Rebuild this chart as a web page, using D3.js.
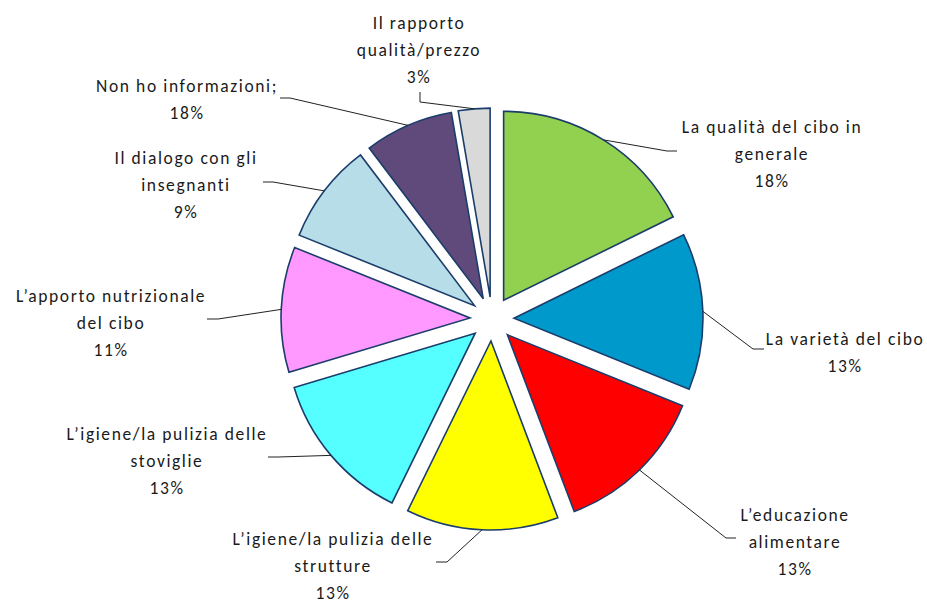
<!DOCTYPE html>
<html>
<head>
<meta charset="utf-8">
<script src="https://cdn.jsdelivr.net/npm/d3@7"></script>
<style>
  body { margin: 0; background: #fff; }
  svg text { font-family: Calibri, Carlito, Lato, "Liberation Sans", Arial, sans-serif; font-size: 17.5px; fill: #1a1a1a; }
</style>
</head>
<body>
<div id="chart"></div>
<script>
// slice names (line breaks as in the picture), slice sizes, printed percentages
var categories = [
    "La qualità del cibo in\ngenerale",
    "La varietà del cibo",
    "L’educazione\nalimentare",
    "L’igiene/la pulizia delle\nstrutture",
    "L’igiene/la pulizia delle\nstoviglie",
    "L’apporto nutrizionale\ndel cibo",
    "Il dialogo con gli\ninsegnanti",
    "Non ho informazioni;",
    "Il rapporto\nqualità/prezzo"
];
var values = [17.7, 13.4, 13.1, 13.0, 13.1, 10.7, 8.6, 7.6, 2.7];
var pctLabels = ["18%", "13%", "13%", "13%", "13%", "11%", "9%", "18%", "3%"];
var colors = ["#92d050", "#0099cc", "#ff0000", "#ffff00", "#55ffff", "#ff99ff", "#b7dde8", "#604a7b", "#d9d9d9"];

// manual label placement: text block centre x, first line y, leader end and elbow
var labelLayout = [
    { x: 772, y: 127, end: [677, 151], elbow: [667, 151] },
    { x: 845, y: 339, end: [764, 349], elbow: [753, 349] },
    { x: 795, y: 515, end: [736, 538], elbow: [726, 538] },
    { x: 333, y: 539, end: [436, 562], elbow: [447, 562] },
    { x: 167, y: 434, end: [268, 457], elbow: [278, 457] },
    { x: 111, y: 296, end: [207, 319], elbow: [218, 319] },
    { x: 186, y: 158, end: [263, 182], elbow: [273, 182] },
    { x: 187, y: 86, end: [280, 98], elbow: [290, 98] },
    { x: 419, y: 23, end: [420, 92], elbow: [420, 102] }
];

var width = 927, height = 600;
var cx = 492, cy = 319, radius = 189, explode = 22, lineH = 26.7;

var svg = d3.select("#chart").append("svg")
    .attr("width", width)
    .attr("height", height);

var pie = d3.pie().sort(null).value(function (d) { return d; });
var arcs = pie(values);

var arc = d3.arc().innerRadius(0).outerRadius(radius);

function mid(d) { return (d.startAngle + d.endAngle) / 2; }

var g = svg.append("g").attr("transform", "translate(" + cx + "," + cy + ")");

g.selectAll("path.slice")
    .data(arcs)
    .enter().append("path")
    .attr("class", "slice")
    .attr("d", arc)
    .attr("transform", function (d) {
        var a = mid(d);
        return "translate(" + (Math.sin(a) * explode) + "," + (-Math.cos(a) * explode) + ")";
    })
    .attr("fill", function (d, i) { return colors[i]; })
    .attr("stroke", "#1b3d6b")
    .attr("stroke-width", 1.6)
    .attr("stroke-linejoin", "miter");

// leader lines
svg.selectAll("path.leader")
    .data(arcs)
    .enter().append("path")
    .attr("class", "leader")
    .attr("fill", "none")
    .attr("stroke", "#222")
    .attr("stroke-width", 1)
    .attr("d", function (d, i) {
        var a = mid(d), r = radius + explode;
        var sx = cx + Math.sin(a) * r, sy = cy - Math.cos(a) * r;
        var L = labelLayout[i];
        return "M" + sx + "," + sy + "L" + L.elbow[0] + "," + L.elbow[1] + "L" + L.end[0] + "," + L.end[1];
    });

// labels
var lab = svg.selectAll("text.lab")
    .data(categories)
    .enter().append("text")
    .attr("class", "lab")
    .attr("text-anchor", "middle")
    .attr("letter-spacing", "1.6px");

lab.each(function (c, i) {
    var lines = c.split("\n").concat([pctLabels[i]]);
    var L = labelLayout[i];
    d3.select(this).selectAll("tspan")
        .data(lines)
        .enter().append("tspan")
        .attr("x", L.x)
        .attr("y", function (t, j) { return L.y + j * lineH; })
        .attr("dy", "0.35em")
        .text(function (t) { return t; });
});
</script>
</body>
</html>
